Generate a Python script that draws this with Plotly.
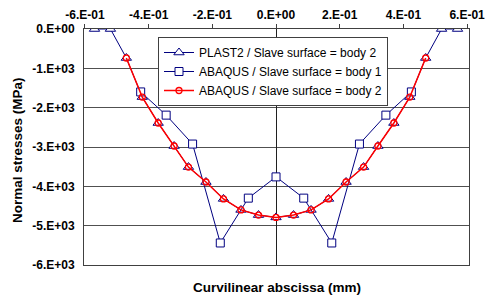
import plotly.graph_objects as go

# PLAST2 / Slave surface = body 2
plast2_x = [-0.57, -0.52, -0.47, -0.42, -0.37, -0.32, -0.275, -0.22, -0.165, -0.11, -0.055, 0.0,
            0.055, 0.11, 0.165, 0.22, 0.275, 0.32, 0.37, 0.42, 0.47, 0.52, 0.57]
plast2_y = [0, 0, -737, -1730, -2390, -2975, -3510, -3890, -4320, -4600, -4730, -4790,
            -4730, -4600, -4320, -3890, -3510, -2975, -2390, -1730, -737, 0, 0]

# ABAQUS / Slave surface = body 1
abq1_x = [-0.425, -0.345, -0.262, -0.175, -0.087, 0.0, 0.087, 0.175, 0.262, 0.345, 0.425]
abq1_y = [-1600, -2190, -2925, -5440, -4300, -3760, -4300, -5440, -2925, -2190, -1600]

# ABAQUS / Slave surface = body 2
abq2_x = [-0.47, -0.42, -0.37, -0.32, -0.275, -0.22, -0.165, -0.11, -0.055, 0.0,
          0.055, 0.11, 0.165, 0.22, 0.275, 0.32, 0.37, 0.42, 0.47]
abq2_y = [-737, -1730, -2390, -2975, -3510, -3890, -4320, -4600, -4730, -4790,
          -4730, -4600, -4320, -3890, -3510, -2975, -2390, -1730, -737]

x_tickvals = [-0.6, -0.4, -0.2, 0.0, 0.2, 0.4, 0.6]
x_ticktext = ["-6.E-01", "-4.E-01", "-2.E-01", "0.E+00", "2.E-01", "4.E-01", "6.E-01"]
y_tickvals = [0, -1000, -2000, -3000, -4000, -5000, -6000]
y_ticktext = ["0.E+00", "-1.E+03", "-2.E+03", "-3.E+03", "-4.E+03", "-5.E+03", "-6.E+03"]

NAVY = "#000080"
RED = "#FF0000"
FONT = "Liberation Sans, Arial"

fig = go.Figure()
fig.add_trace(go.Scatter(
    x=plast2_x, y=plast2_y, mode="lines+markers",
    name="PLAST2 / Slave surface = body 2",
    line=dict(color=NAVY, width=1),
    marker=dict(symbol="triangle-up", size=9, color="white", line=dict(color=NAVY, width=1)),
))
fig.add_trace(go.Scatter(
    x=abq1_x, y=abq1_y, mode="lines+markers",
    name="ABAQUS / Slave surface = body 1",
    line=dict(color=NAVY, width=1),
    marker=dict(symbol="square", size=8, color="white", line=dict(color=NAVY, width=1)),
))
fig.add_trace(go.Scatter(
    x=abq2_x, y=abq2_y, mode="lines+markers",
    name="ABAQUS / Slave surface = body 2",
    line=dict(color=RED, width=1.5),
    marker=dict(symbol="circle-open", size=6, color=RED, line=dict(color=RED, width=1.3)),
))

tickfont = dict(family=FONT, size=12, color="black", weight="bold")

L, R, T, B = 84, 17, 29, 32
W, H = 486, 297
pw, ph = W - L - R, H - T - B

fig.update_layout(
    width=W, height=H,
    margin=dict(l=L, r=R, t=T, b=B),
    paper_bgcolor="white", plot_bgcolor="white",
    font=dict(family=FONT, color="black"),
    showlegend=True,
    legend=dict(
        x=(158 - L) / pw, y=(H - B - 37) / ph, xanchor="left", yanchor="top",
        bgcolor="white", bordercolor="#404040", borderwidth=1,
        font=dict(size=12, family=FONT, color="black"),
        tracegroupgap=0, itemwidth=30,
    ),
    xaxis=dict(
        range=[-0.603, 0.606], side="top", automargin=False,
        tickvals=x_tickvals, ticktext=x_ticktext, tickfont=tickfont,
        showgrid=False, zeroline=True, zerolinecolor="#202020", zerolinewidth=1,
        showline=True, linecolor="#404040", linewidth=1, mirror=True,
        ticks="outside", ticklen=4, tickcolor="#404040",
    ),
    yaxis=dict(
        range=[-6000, 0], automargin=False,
        tickvals=y_tickvals, ticktext=y_ticktext, tickfont=tickfont,
        showgrid=True, gridcolor="#505050", gridwidth=1,
        zeroline=False,
        showline=True, linecolor="#404040", linewidth=1, mirror=True,
        ticks="", ticklabelstandoff=6,
    ),
)
fig.add_annotation(text="Curvilinear abscissa (mm)", xref="paper", yref="paper",
                   x=0.5, y=-(287 - (H - B)) / ph, xanchor="center", yanchor="middle",
                   showarrow=False, font=dict(size=13.5, weight="bold", family=FONT))
fig.add_annotation(text="Normal stresses (MPa)", xref="paper", yref="paper",
                   x=-(L - 17) / pw, y=((H - B) - 150) / ph, xanchor="center", yanchor="middle",
                   textangle=-90, showarrow=False,
                   font=dict(size=13.5, weight="bold", family=FONT))

fig.write_html("out.html", config={"displayModeBar": False},
               post_script="document.body.style.margin='0px';document.body.style.overflow='hidden';")
